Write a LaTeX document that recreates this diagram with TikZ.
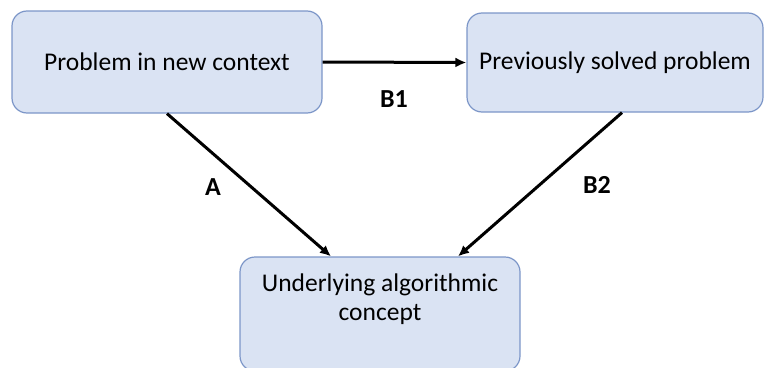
\documentclass[tikz,border=0pt]{standalone}
\usepackage{fontspec}
\setmainfont{Carlito}
\usetikzlibrary{arrows.meta,calc}
\definecolor{boxfill}{RGB}{218,227,243}
\definecolor{boxline}{RGB}{124,150,200}
\begin{document}
\begin{tikzpicture}[x=1pt,y=-1pt,
  box/.style={draw=boxline,fill=boxfill,line width=1.2pt,rounded corners=15pt,inner sep=0pt,font=\fontsize{25.5}{30}\selectfont,align=center},
  conn/.style={line width=3pt,-{Latex[length=11pt,width=10pt]}},
  lab/.style={font=\fontsize{26}{30}\selectfont\bfseries}]
\useasboundingbox (0,0) rectangle (765,367);
\clip (0,0) rectangle (765,367);
\node[box,minimum width=310pt,minimum height=102pt] (b1) at (167,62) {Problem in new context};
\node[box,minimum width=296pt,minimum height=99pt] (b2) at (615,62.5) {Previously solved problem};
\node[box,minimum width=280pt,minimum height=114pt] (b3) at (380,314) {};
\node[font=\fontsize{25.5}{29.5}\selectfont,align=center] (t3) at (380,299) {Underlying algorithmic\\concept};
\draw[conn] (b1.east) -- (b2.west);
\draw[conn] (b1.south) -- ($(b3.north)+(-49,0)$);
\draw[conn] ($(b2.south)+(7,0)$) -- ($(b3.north)+(78,0)$);
\node[lab] (lB1) at (394,99) {B1};
\node[lab] (lA) at (213,187) {A};
\node[lab] (lB2) at (597,185) {B2};
\end{tikzpicture}
\end{document}
